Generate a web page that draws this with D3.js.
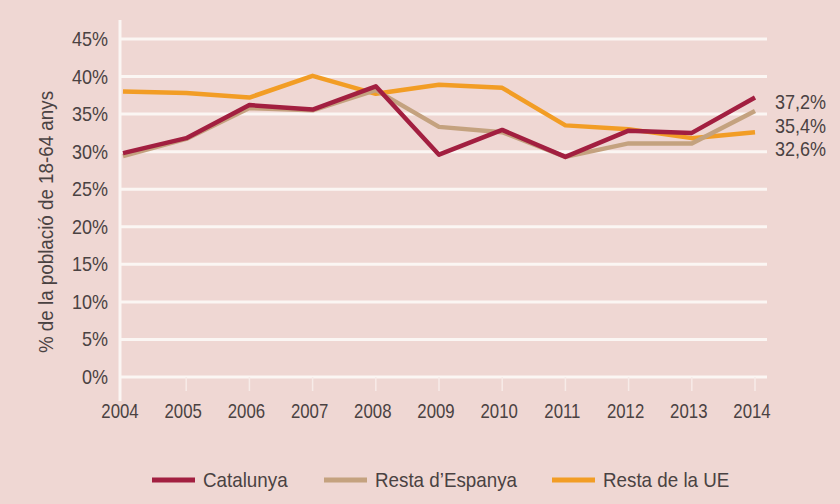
<!DOCTYPE html>
<html>
<head>
<meta charset="utf-8">
<script src="https://cdn.jsdelivr.net/npm/d3@7"></script>
<style>
  html, body { margin: 0; padding: 0; background: #efd7d3; }
  svg text { font-family: "Liberation Sans", Arial, sans-serif; fill: #4a4242; }
</style>
</head>
<body>
<svg id="chart" width="840" height="504"></svg>
<script>
// dades
const years = [2004, 2005, 2006, 2007, 2008, 2009, 2010, 2011, 2012, 2013, 2014];
const catalunya = [29.8, 31.8, 36.2, 35.6, 38.7, 29.6, 32.9, 29.3, 32.8, 32.5, 37.2];
const restaEspanya = [29.4, 31.7, 35.8, 35.5, 38.2, 33.3, 32.6, 29.3, 31.1, 31.1, 35.4];
const restaUE = [38.0, 37.8, 37.2, 40.1, 37.7, 38.9, 38.5, 33.5, 33.0, 31.8, 32.6];
const yTicks = [0, 5, 10, 15, 20, 25, 30, 35, 40, 45];
const endLabels = ['37,2%', '35,4%', '32,6%'];

const series = [
  { name: 'Resta de la UE', values: restaUE, color: '#f29d25' },
  { name: "Resta d\u2019Espanya", values: restaEspanya, color: '#c4a27f' },
  { name: 'Catalunya', values: catalunya, color: '#a21f40' }
];
const legendOrder = ['Catalunya', "Resta d\u2019Espanya", 'Resta de la UE'];

const svg = d3.select('#chart');
const width = 840;
const height = 504;
const pad = { top: 39, right: 85, bottom: 127, left: 123 };
const fontSize = 20;

const x = d3.scalePoint()
  .domain(years)
  .range([pad.left, 755]);
const y = d3.scaleLinear()
  .domain([0, 45])
  .range([height - pad.bottom, pad.top]);

// text helper: narrow the glyphs horizontally (condensed look)
function label (sel, tx, ty, squeeze, rot) {
  sel.attr('transform', (d, i) =>
    `translate(${typeof tx === 'function' ? tx(d, i) : tx},${typeof ty === 'function' ? ty(d, i) : ty})` +
    (rot ? `rotate(${rot})` : '') + `scale(${squeeze},1)`)
    .attr('font-size', fontSize);
  return sel;
}

svg.append('rect')
  .attr('width', width).attr('height', height)
  .attr('fill', '#efd7d3');

// gridlines
svg.append('g')
  .selectAll('line')
  .data(yTicks)
  .join('line')
  .attr('x1', 120).attr('x2', 767)
  .attr('y1', d => y(d)).attr('y2', d => y(d))
  .attr('stroke', '#fbf6f3')
  .attr('stroke-width', 3);

// y axis line
svg.append('line')
  .attr('x1', 120).attr('x2', 120)
  .attr('y1', 20).attr('y2', 401)
  .attr('stroke', '#fbf6f3')
  .attr('stroke-width', 3);

// small ticks under the axis
svg.append('g')
  .selectAll('line')
  .data(years.slice(1))
  .join('line')
  .attr('x1', d => x(d)).attr('x2', d => x(d))
  .attr('y1', y(0)).attr('y2', y(0) + 14)
  .attr('stroke', '#f7ebe8')
  .attr('stroke-width', 1.5);

// y tick labels
label(svg.append('g')
  .selectAll('text')
  .data(yTicks)
  .join('text')
  .attr('text-anchor', 'end')
  .text(d => d + '%'), 108, d => y(d) + 7, 0.9);

// x tick labels
label(svg.append('g')
  .selectAll('text')
  .data(years)
  .join('text')
  .attr('text-anchor', 'middle')
  .text(d => d), d => x(d) - 3, 418, 0.84);

// y title
label(svg.append('text')
  .attr('text-anchor', 'middle')
  .text('% de la poblaci\u00f3 de 18-64 anys'), 53, 222, 0.94, -90);

// lines
const line = d3.line()
  .x((d, i) => x(years[i]))
  .y(d => y(d));

svg.append('g')
  .selectAll('path')
  .data(series)
  .join('path')
  .attr('d', d => line(d.values))
  .attr('fill', 'none')
  .attr('stroke', d => d.color)
  .attr('stroke-width', 4.5)
  .attr('stroke-linejoin', 'round');

// end labels
const endY = [109, 133, 156];
label(svg.append('g')
  .selectAll('text')
  .data(endLabels)
  .join('text')
  .text(d => d), 775, (d, i) => endY[i], 0.9);

// legend
const legX = [152, 324, 552];
const leg = svg.append('g')
  .selectAll('g')
  .data(legendOrder)
  .join('g')
  .attr('transform', (d, i) => `translate(${legX[i]},480)`);
leg.append('line')
  .attr('x1', 0).attr('x2', 43)
  .attr('stroke', d => series.find(s => s.name === d).color)
  .attr('stroke-width', 5);
label(leg.append('text')
  .text(d => d), 51, 7, 0.94);
</script>
</body>
</html>
